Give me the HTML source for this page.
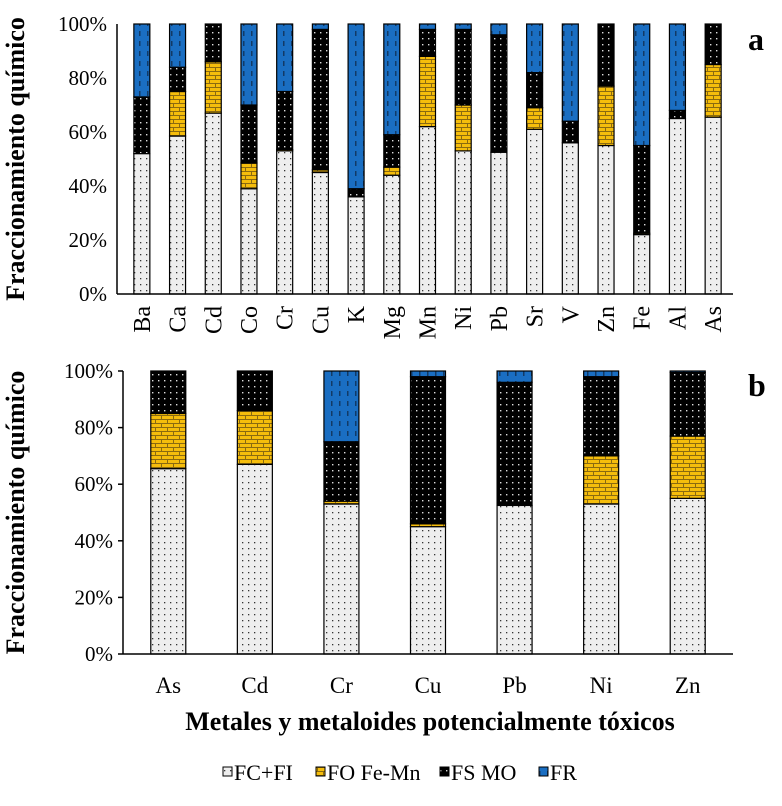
<!DOCTYPE html>
<html><head><meta charset="utf-8"><style>
body{margin:0;background:#fff;}
svg{display:block;font-family:"Liberation Serif",serif;}
</style></head><body>
<svg id="chart" width="782" height="806" viewBox="0 0 782 806">
<defs>
<pattern id="pFC" width="6" height="6" patternUnits="userSpaceOnUse"><rect width="6" height="6" fill="#eeeeee"/><rect x="2" y="2" width="1.3" height="1.3" fill="#333"/></pattern>
<pattern id="pFO" width="12" height="8" patternUnits="userSpaceOnUse"><rect width="12" height="8" fill="#f5bd0c"/><rect y="3" width="12" height="1" fill="#8a6a10"/><rect y="7" width="12" height="1" fill="#8a6a10"/><rect x="5" y="0" width="1" height="3" fill="#8a6a10"/><rect x="11" y="4" width="1" height="3" fill="#8a6a10"/></pattern>
<pattern id="pFS" width="6" height="6" patternUnits="userSpaceOnUse"><rect width="6" height="6" fill="#000"/><rect x="2" y="2" width="1.4" height="1.4" fill="#ddd"/></pattern>
<pattern id="pFR" width="8" height="10" patternUnits="userSpaceOnUse"><rect width="8" height="10" fill="#1a6ec2"/><rect x="3" y="1" width="1.5" height="5" fill="#123a66"/></pattern>
</defs>
<g id="panelA"></g>
<g id="panelB"></g>
<text x="748" y="50" font-size="32" font-weight="bold">a</text>
<text x="748" y="396" font-size="32" font-weight="bold">b</text>
<text x="430" y="730" font-size="26" font-weight="bold" text-anchor="middle">Metales y metaloides potencialmente tóxicos</text>
<g>
<g><rect x="223" y="767" width="9" height="9" fill="url(#pFC)" stroke="#000"/><text x="234" y="780" font-size="22">FC+FI</text></g>
<g><rect x="316" y="767" width="9" height="9" fill="url(#pFO)" stroke="#000"/><text x="327" y="780" font-size="22">FO Fe-Mn</text></g>
<g><rect x="440" y="767" width="9" height="9" fill="url(#pFS)" stroke="#000"/><text x="451" y="780" font-size="22">FS MO</text></g>
<g><rect x="539" y="767" width="9" height="9" fill="url(#pFR)" stroke="#000"/><text x="550" y="780" font-size="22">FR</text></g>
</g>
</svg>
<script>
const catsA = ["Ba","Ca","Cd","Co","Cr","Cu","K","Mg","Mn","Ni","Pb","Sr","V","Zn","Fe","Al","As"];
const fcA = [52,58.5,67,39,53,45,36,44,62,53,52.5,61,56,55,22,65,65.5];
const foA = [0,16.5,19,9.5,0.5,1,0,3,26,17,0,8,0,22,0.5,0,19.5];
const fsA = [21,9,14,21.5,21.5,52,3,12,10,28,43.5,13,8,23,32.5,3,15];
const frA = [27,16,0,30,25,2,61,41,2,2,4,18,36,0,45,32,0];
const catsB = ["As","Cd","Cr","Cu","Pb","Ni","Zn"];
const fcB = [65.5,67,53,45,52.5,53,55];
const foB = [19.5,19,1,1,0,17,22];
const fsB = [15,14,21,52,43.5,28,22.5];
const frB = [0,0,25,2,4,2,0.5];
const yTicks = ["0%","20%","40%","60%","80%","100%"];
const NS="http://www.w3.org/2000/svg";
function mk(p,tag,attrs){const e=document.createElementNS(NS,tag);for(const k in attrs)e.setAttribute(k,attrs[k]);p.appendChild(e);return e;}
function panel(g,cats,series,o){
  const y=v=>o.y0-(o.y0-o.y1)*v/100;
  const bw=(o.x1-o.x0)/cats.length;
  const x=i=>o.x0+bw*(i+0.5);
  const yt=mk(g,'text',{x:o.tx,y:(o.y0+o.y1)/2,'font-size':26,'font-weight':'bold','text-anchor':'middle',transform:`rotate(-90 ${o.tx} ${(o.y0+o.y1)/2})`});
  
  
  yt.textContent='Fraccionamiento químico';
  yTicks.forEach((t,k)=>{const v=k*20;
    const tl=mk(g,'text',{x:o.ax-10,y:y(v)+7,'font-size':21,'text-anchor':'end'});
    
    
    tl.textContent=t;
    if(o.tickMarks){const tm=mk(g,'line',{x1:o.ax-5,x2:o.ax,y1:y(v),y2:y(v),stroke:'#000','stroke-width':1.5});
      
      }
  });
  const pats=['url(#pFC)','url(#pFO)','url(#pFS)','url(#pFR)'];
  const names=['fc-fi','fo-fe-mn','fs-mo','fr'];
  cats.forEach((c,i)=>{
    let acc=0;
    series.forEach((s,j)=>{const v=s[i];if(v<=0){return;}
      const r=mk(g,'rect',{x:x(i)-o.w/2,y:y(acc+v),width:o.w,height:y(acc)-y(acc+v),fill:pats[j],stroke:'#000','stroke-width':1.2});
      
      
      acc+=v;});
    let lab;
    if(o.rot){lab=mk(g,'text',{x:0,y:0,'font-size':24,'text-anchor':'end',transform:`translate(${x(i)+8} ${o.y0+12}) rotate(-90)`});}
    else{lab=mk(g,'text',{x:x(i),y:o.y0+39,'font-size':23,'text-anchor':'middle'});}
    
    
    lab.textContent=c;
  });
  const ya=mk(g,'line',{x1:o.ax,x2:o.ax,y1:o.y1,y2:o.y0,stroke:'#000','stroke-width':1.5});
  
  
  const xa=mk(g,'line',{x1:o.ax,x2:o.x1+2,y1:o.y0,y2:o.y0,stroke:'#000','stroke-width':1.5});
  
  
}
panel(document.getElementById('panelA'),catsA,[fcA,foA,fsA,frA],{x0:124,x1:731,y0:294,y1:24,w:16,ax:117,tx:24,rot:true,tickMarks:false});
panel(document.getElementById('panelB'),catsB,[fcB,foB,fsB,frB],{x0:125,x1:731,y0:654,y1:371,w:35,ax:123,tx:24,rot:false,tickMarks:true});
</script>
</body></html>
